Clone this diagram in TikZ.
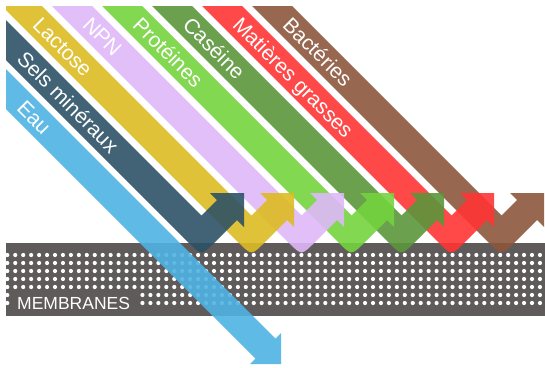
\documentclass[tikz,border=0pt]{standalone}
\usepackage{fontspec}
\setmainfont{Liberation Sans}

\definecolor{eau}{HTML}{4FB3E3}
\definecolor{sels}{HTML}{2D5266}
\definecolor{lactose}{HTML}{DDBB22}
\definecolor{npn}{HTML}{DFB8F8}
\definecolor{proteines}{HTML}{74D43E}
\definecolor{caseine}{HTML}{5A963B}
\definecolor{grasses}{HTML}{FF3434}
\definecolor{bacteries}{HTML}{8D563C}
\definecolor{membrane}{HTML}{5F5B5A}

\tikzset{
    band/.style = {fill = #1, fill opacity = 0.9},
    bandlabel/.style = {anchor = west, rotate = -45, text = white, inner sep = 0pt,
        text height = 15pt, text depth = 0pt, font = \fontsize{21}{21}\selectfont},
    pore/.style = {fill = white},
    membranelabel/.style = {anchor = base west, fill = membrane, text = white,
        inner xsep = 7pt, inner ysep = 4.5pt, font = \fontsize{17.5}{17.5}\selectfont},
}

\begin{document}
\begin{tikzpicture}[x = 1pt, y = -1pt]
    \useasboundingbox (0,0) rectangle (545,367);
    % membrane and its pores
    \fill[membrane] (6,243) rectangle (545,316);
    \begin{scope}
        \clip (6,243) rectangle (545,316);
        \foreach \r in {0,...,6}
            \foreach \c in {0,...,67}
                \fill[pore] (7.3+7.95*\c, 255+8*\r) circle[radius = 2.1pt];
    \end{scope}
    \node[membranelabel] (membranes) at (10,309) {MEMBRANES};
    % bands held back by the membrane
    \begin{scope}
        \clip (6,6) rectangle (545,367);
        \foreach \k/\col/\lx/\ly/\txt in {6/bacteries/286.75/20.75/Bactéries,
                5/grasses/236.75/20.75/Matières grasses, 4/caseine/186.75/20.75/Caséine,
                3/proteines/136.75/20.75/Protéines, 2/npn/86.75/20.75/NPN,
                1/lactose/36.75/20.75/Lactose, 0/sels/21/55/Sels minéraux} {
            \fill[band = \col, xshift = 50*\k] (-100,-46) -- (188.77,242.77)
                .. controls (201.5,255.5) .. (214.23,242.77) -- (237,220) -- (244,227)
                -- (244,193) -- (210,193) -- (217,200) -- (201.5,215.5) -- (-60,-46) -- cycle;
            \node[bandlabel] (label-\k) at (\lx,\ly) {\txt};
        }
        % water goes through
        \fill[band = eau] (-100,-37) -- (275.5,338.5) -- (281,333) -- (281,364)
            -- (250,364) -- (255.5,358.5) -- (-100,3) -- cycle;
        \node[bandlabel] (label-eau) at (21,104) {Eau};
    \end{scope}
\end{tikzpicture}
\end{document}
